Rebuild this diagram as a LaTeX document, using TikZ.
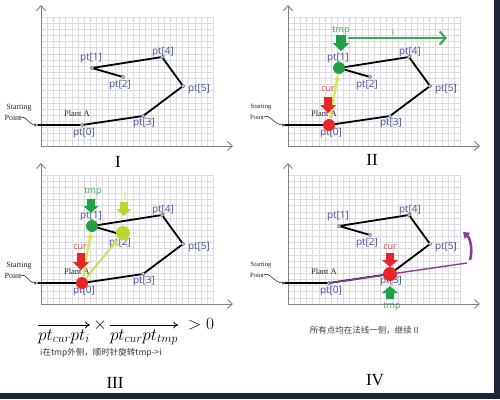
\documentclass[tikz,border=0pt]{standalone}
\usepackage{fontspec}
\setmainfont{Liberation Serif}
\newfontfamily\lblfont{Open Sans}
\newfontfamily\cjk{Noto Sans CJK SC}
\usetikzlibrary{arrows.meta}
\definecolor{lblblue}{RGB}{72,78,160}
\definecolor{gridc}{RGB}{218,218,224}
\definecolor{axisc}{RGB}{128,128,128}
\definecolor{curred}{RGB}{232,38,42}
\definecolor{curtxt}{RGB}{222,70,70}
\definecolor{tmpgreen}{RGB}{34,160,72}
\definecolor{tmptxt}{RGB}{60,165,90}
\definecolor{ltgreen}{RGB}{186,214,50}
\definecolor{yarrc}{RGB}{212,232,80}
\definecolor{larrc}{RGB}{196,222,96}
\definecolor{purp}{RGB}{140,62,150}
\definecolor{navyb}{RGB}{28,38,56}
\definecolor{dotc}{RGB}{110,110,110}
\tikzset{
  gridline/.style={draw=gridc, line width=0.5pt},
  axisline/.style={draw=axisc, line width=0.9pt, -{Straight Barb[length=5pt,width=9pt]}},
  polyline/.style={draw=black, line width=1.8pt, line join=round, line cap=round},
  ptl/.style={font=\lblfont\fontsize{10}{11}\selectfont, text=lblblue, inner sep=0pt},
  plant/.style={font=\fontsize{8.5}{9}\selectfont, text=black!85, inner sep=0pt},
  startl/.style={font=\fontsize{8}{9}\selectfont, text=black!85, inner sep=0pt},
  starts/.style={font=\fontsize{6.5}{7}\selectfont, text=black!85, inner sep=0pt},
  squig/.style={draw=black!80, line width=0.6pt, -{Stealth[length=3pt,width=3pt]}},
  curc/.style={circle, fill=curred, minimum size=12pt, inner sep=0pt},
  tmpc/.style={circle, fill=tmpgreen, minimum size=12pt, inner sep=0pt},
  ltc/.style={circle, fill=ltgreen, minimum size=14pt, inner sep=0pt},
  curlbl/.style={font=\lblfont\fontsize{9}{10}\selectfont, text=curtxt, inner sep=0pt},
  tmplbl/.style={font=\lblfont\fontsize{9}{10}\selectfont, text=tmptxt, inner sep=0pt},
  ilbl/.style={font=\lblfont\fontsize{9}{10}\selectfont, text=ltgreen, inner sep=0pt},
  yarr/.style={draw=yarrc, line width=2.2pt, shorten <=1pt, shorten >=1pt, -{Stealth[length=6pt,width=7pt]}},
  larr/.style={draw=larrc, line width=2pt, shorten <=1pt, shorten >=1pt, -{Stealth[length=6pt,width=7pt]}},
  garr/.style={draw=tmptxt, line width=2pt, -{Straight Barb[length=6pt,width=13pt]}},
  title/.style={font=\fontsize{17}{19}\selectfont, inner sep=0pt},
  formula/.style={font=\fontsize{17}{20}\selectfont, inner sep=0pt},
  farrow/.style={draw=black, line width=0.8pt, -{To[length=5pt,width=7pt]}},
  cjkt/.style={font=\cjk\fontsize{8.5}{10}\selectfont, text=black!80, inner sep=0pt},
  purpline/.style={draw=purp, line width=1.4pt},
  parr/.style={draw=purp, line width=2.6pt, -{Triangle[length=6pt,width=8pt]}},
}
\newcommand\fatarr[7]{\fill[#1] (#2-#6,#3) -- (#2+#6,#3) -- (#2+#6,#4) -- (#2+#7,#4) -- (#2,#5) -- (#2-#7,#4) -- (#2-#6,#4) -- cycle;}
\newcommand\panelbase{%
  \foreach \i in {0,...,28} \draw[gridline] (\i*6.15,0) -- (\i*6.15,-129.2);
  \foreach \j in {0,...,21} \draw[gridline] (0,-\j*6.15) -- (172.2,-\j*6.15);
  \coordinate (o) at (0,0);
  \coordinate (ytip) at (0,-141);
  \coordinate (xtip) at (192,0);
  \draw[axisline] (o) -- (ytip);
  \draw[axisline] (o) -- (xtip);
  \coordinate (s) at (-3,-21);
  \coordinate (p0) at (41,-21);
  \coordinate (p1) at (51,-78);
  \coordinate (p2) at (82,-69);
  \coordinate (p3) at (102,-30);
  \coordinate (p4) at (121,-89);
  \coordinate (p5) at (142,-60);
  \draw[polyline] (s) -- (p0) -- (p3) -- (p5) -- (p4) -- (p1) -- (p2);
  \foreach \p in {p0,p1,p2,p3,p4,p5} \filldraw[fill=white!70!dotc, draw=dotc, line width=0.5pt] (\p) circle (1.7);
  \node[ptl] (l0) at (43,-13) {pt[0]};
  \node[ptl] (l1) at (50,-88) {pt[1]};
  \node[ptl] (l2) at (79,-61) {pt[2]};
  \node[ptl] (l3) at (103,-23) {pt[3]};
  \node[ptl] (l4) at (122,-94) {pt[4]};
  \node[ptl] (l5) at (158,-57) {pt[5]};
  \node[plant] (pa) at (36,-32) {Plant A};
}
\begin{document}
\begin{tikzpicture}[x=1pt,y=-1pt]
\useasboundingbox (0,0) rectangle (500,399);
\fill[white] (0,0) rectangle (500,399);
\fill[navyb] (494,0) rectangle (500,399);
\fill[navyb] (0,393) rectangle (500,399);

% Panel I
\begin{scope}[shift={(41,146)}, name prefix=a-]
  \panelbase
  \node[startl] (st) at (-22,-38) {Starting};
  \node[startl] (sp) at (-28,-28) {Point};
  \coordinate (q1) at (-21,-28);
  \coordinate (q2) at (-4,-21);
  \draw[squig] (q1) .. controls (-16,-32) and (-12,-21) .. (q2);
\end{scope}
\node[title] (t1) at (118,162) {I};

% Panel II
\begin{scope}[shift={(288,146)}, name prefix=b-]
  \panelbase
  \node[starts] (st) at (-27,-39) {Starting};
  \node[starts] (sp) at (-31,-29) {Point};
  \coordinate (q1) at (-24,-29);
  \coordinate (q2) at (-3,-21);
  \draw[squig] (q1) .. controls (-19,-33) and (-14,-21) .. (q2);
  \node[curc] (cur) at (p0) {};
  \node[tmpc] (tmp) at (p1) {};
  \draw[yarr] (cur) -- (tmp);
  \fatarr{curred}{40}{-49}{-41}{-33}{4}{8}
  \node[curlbl] (cl) at (40,-57) {cur};
  \node[tmplbl] (tl) at (53,-115) {tmp};
  \fatarr{tmpgreen}{53}{-111}{-103}{-95}{5}{8.5}
  \coordinate (ia) at (60,-108);
  \coordinate (ib) at (159,-108);
  \draw[garr] (ia) -- (ib);
  \node[tmplbl] (il) at (105,-114) {i};
\end{scope}
\node[title] (t2) at (372,160) {II};

% Panel III
\begin{scope}[shift={(41,304)}, name prefix=c-]
  \panelbase
  \node[startl] (st) at (-22,-38) {Starting};
  \node[startl] (sp) at (-28,-28) {Point};
  \coordinate (q1) at (-21,-28);
  \coordinate (q2) at (-4,-21);
  \draw[squig] (q1) .. controls (-16,-32) and (-12,-21) .. (q2);
  \node[curc] (cur) at (p0) {};
  \node[tmpc] (tmp) at (p1) {};
  \node[ltc] (ic) at (82,-71) {};
  \draw[larr] (cur) -- (ic);
  \draw[yarr] (cur) -- (tmp);
  \fatarr{curred}{40}{-51}{-42}{-34}{4}{8}
  \fatarr{tmpgreen}{50}{-105}{-98}{-91}{4}{7.5}
  \fatarr{ltgreen}{83}{-102}{-95}{-88}{4}{7.5}
  \node[curlbl] (cl) at (39,-57) {cur};
  \node[tmplbl] (tl) at (52,-112) {tmp};
  \node[ilbl] (il) at (84,-108) {i};
\end{scope}
\node[formula, anchor=base] (f1) at (64,340) {$pt_{cur}pt_i$};
\node[formula, anchor=base] (f2) at (144,340) {$pt_{cur}pt_{tmp}$};
\draw[farrow] ([yshift=15pt]f1.base west) -- ([yshift=15pt]f1.base east);
\draw[farrow] ([yshift=15pt]f2.base west) -- ([yshift=15pt]f2.base east);
\node[formula] (tx) at (100,325) {$\times$};
\node[formula] (gt) at (201,324) {$>0$};
\node[cjkt] (c3) at (101,353) {i在tmp外侧，顺时针旋转tmp->i};
\node[title] (t3) at (115,383) {III};

% Panel IV
\begin{scope}[shift={(288,304)}, name prefix=d-]
  \panelbase
  \node[starts] (st) at (-27,-39) {Starting};
  \node[starts] (sp) at (-31,-29) {Point};
  \coordinate (q1) at (-24,-29);
  \coordinate (q2) at (-3,-21);
  \draw[squig] (q1) .. controls (-19,-33) and (-14,-21) .. (q2);
  \coordinate (pe) at (179,-41);
  \draw[purpline] (p0) -- (pe);
  \node[curc, minimum size=14pt] (cur) at (p3) {};
  \fatarr{curred}{102}{-51}{-44}{-37}{4}{8}
  \fatarr{tmpgreen}{102}{-5}{-11}{-18}{4}{8}
  \node[curlbl] (cl) at (102,-57) {cur};
  \node[tmplbl] (tl) at (104,3) {tmp};
  \coordinate (ca) at (182,-44);
  \coordinate (cd) at (175,-72);
  \draw[parr] (ca) .. controls (185,-55) and (182,-66) .. (cd);
\end{scope}
\node[cjkt, text=black!75] (c4) at (365,330) {所有点均在法线一侧，继续Ⅱ};
\node[title] (t4) at (375,380) {IV};
\end{tikzpicture}
\end{document}
